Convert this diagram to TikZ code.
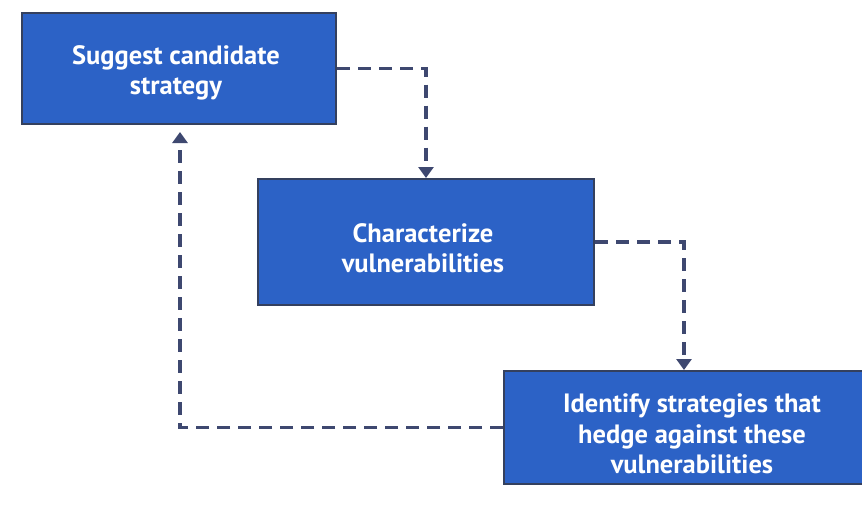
\documentclass[tikz,border=0pt]{standalone}
\usepackage{fontspec}
\setmainfont{PT Sans}
\usetikzlibrary{arrows.meta}
\definecolor{boxblue}{HTML}{2C62C6}
\definecolor{boxedge}{HTML}{34405E}
\definecolor{linecol}{HTML}{3E4870}
\tikzset{
  stepbox/.style={draw=boxedge, line width=2pt, fill=boxblue, text=white,
    align=center, font=\bfseries\fontsize{26.5}{30.5}\selectfont, inner sep=0pt},
  conn/.style={draw=linecol, line width=3.6pt, dash pattern=on 13pt off 8pt,
    -{Triangle[width=15pt,length=11pt]}}
}
\begin{document}
\begin{tikzpicture}[x=1pt,y=-1pt]
\useasboundingbox[fill=white] (0,0) rectangle (862,531);
\node[stepbox, minimum width=314pt, minimum height=111pt] (b1) at (179,68.5) {};
\node[stepbox, minimum width=336pt, minimum height=126pt] (b2) at (426,242) {};
\node[stepbox, minimum width=376pt, minimum height=113pt] (b3) at (692,427.5) {};
\node[stepbox, draw=none, fill=none] (t1) at (176,73) {Suggest candidate\\strategy};
\node[stepbox, draw=none, fill=none] (t2) at (423,248) {Characterize\\vulnerabilities};
\node[stepbox, draw=none, fill=none] (t3) at (692,434) {Identify strategies that\\hedge against these\\vulnerabilities};
\coordinate (c2) at ([xshift=-8pt]b3.north);
\coordinate (c3) at ([xshift=1pt,yshift=-7pt]b1.south);
\draw[conn] (b1.east) -| (b2.north);
\draw[conn] (b2.east) -| (c2);
\draw[conn] (b3.west) -| (c3);
\end{tikzpicture}
\end{document}
